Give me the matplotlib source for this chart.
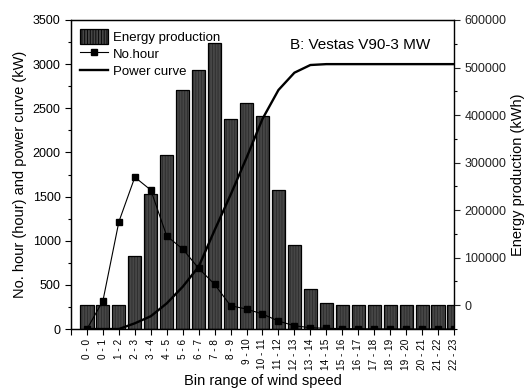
import matplotlib
matplotlib.use("Agg")
import matplotlib.pyplot as plt
from matplotlib.patches import Patch
from matplotlib.lines import Line2D
from matplotlib.ticker import MultipleLocator

plt.rcParams['font.family'] = ['Liberation Sans', 'DejaVu Sans']
plt.rcParams['hatch.linewidth'] = 0.6

bins = ["0 - 0", "0 - 1", "1 - 2", "2 - 3", "3 - 4", "4 - 5", "5 - 6", "6 - 7",
        "7 - 8", "8 - 9", "9 - 10", "10 - 11", "11 - 12", "12 - 13", "13 - 14",
        "14 - 15", "15 - 16", "16 - 17", "17 - 18", "18 - 19", "19 - 20",
        "20 - 21", "21 - 22", "22 - 23"]

# energy production (kWh), right axis
energy = [0, 0, 0, 103000, 235000, 315000, 453000, 494000, 552000, 392000,
          426000, 399000, 243000, 126000, 33500, 4000, 500, 0, 0, 0, 0, 0, 0, 0]

# number of hours, left axis
hours = [0, 320, 1215, 1720, 1574, 1053, 906, 687, 506, 264, 226, 170, 90,
         37, 15, 8, 5, 3, 2, 1, 1, 0, 0, 0]

# power curve (kW), left axis
power = [0, 0, 0, 65, 145, 291, 479, 706, 1120, 1520, 1940, 2380, 2707,
         2903, 2990, 3000, 3000, 3000, 3000, 3000, 3000, 3000, 3000, 3000]

x = list(range(len(bins)))
e_floor = -50000

fig = plt.figure(figsize=(5.28, 3.88), dpi=100)
ax = fig.add_axes([0.1345, 0.152, 0.7253, 0.7965])
ax2 = ax.twinx()
ax.set_zorder(ax2.get_zorder() + 1)
ax.patch.set_visible(False)

# bars on the right axis, starting from the bottom of the axes
heights = [v - e_floor for v in energy]
ax2.bar(x, heights, bottom=e_floor, width=0.82, color="#464646",
        edgecolor="#2c2c2c", hatch="||||||", linewidth=0, zorder=2)
ax2.bar(x, heights, bottom=e_floor, width=0.82, fill=False,
        edgecolor="black", linewidth=0.9, zorder=3)

ax.plot(x, hours, color="black", linewidth=0.8, marker="s", markersize=4.5,
        zorder=4)
ax.plot(x, power, color="black", linewidth=1.7, zorder=5)

ax.set_xlim(-1, 23)
ax.set_ylim(0, 3500)
ax2.set_ylim(e_floor, 600000)

ax.set_xticks(list(range(-1, 24)))
ax.set_xticklabels([""] + bins, rotation=90, fontsize=7.2)
ax.tick_params(axis="x", direction="out", length=4, width=0.8, pad=3)
ax2.xaxis.set_ticks_position("top")
ax2.tick_params(axis="x", direction="in", length=4, width=0.8, labeltop=False)

ax.yaxis.set_major_locator(MultipleLocator(500))
ax.yaxis.set_minor_locator(MultipleLocator(250))
ax.tick_params(axis="y", which="major", direction="out", length=4, width=0.8,
               labelsize=9)
ax.tick_params(axis="y", which="minor", direction="out", length=2.5, width=0.8)

ax2.yaxis.set_major_locator(MultipleLocator(100000))
ax2.yaxis.set_minor_locator(MultipleLocator(50000))
ax2.tick_params(axis="y", which="major", direction="out", length=4, width=0.8,
                labelsize=9, colors="#222222")
ax2.tick_params(axis="y", which="minor", direction="out", length=2.5, width=0.8)

for s in ax.spines.values():
    s.set_linewidth(0.9)
for s in ax2.spines.values():
    s.set_linewidth(0.9)
ax2.spines["right"].set_color("#555555")

ax.set_xlabel("Bin range of wind speed", fontsize=10.5)
ax.xaxis.set_label_coords(0.5, -0.147)
ax.set_ylabel("No. hour (hour) and power curve (kW)", fontsize=10.5, labelpad=4)
ax2.set_ylabel("Energy production (kWh)", fontsize=10.5, labelpad=3)

ax.text(0.755, 0.918, "B: Vestas V90-3 MW", transform=ax.transAxes,
        ha="center", va="center", fontsize=11)

handles = [
    Patch(facecolor="#464646", edgecolor="black", hatch="||||||", linewidth=0.9),
    Line2D([], [], color="black", linewidth=0.8, marker="s", markersize=4.5),
    Line2D([], [], color="black", linewidth=1.7),
]
ax.legend(handles, ["Energy production", "No.hour", "Power curve"],
          loc="upper left", frameon=False, fontsize=9.5, handlelength=2.1,
          handleheight=1.3, labelspacing=0.2, borderaxespad=0.5,
          handletextpad=0.4, borderpad=0.2)

fig.savefig("out.png", dpi=100)
